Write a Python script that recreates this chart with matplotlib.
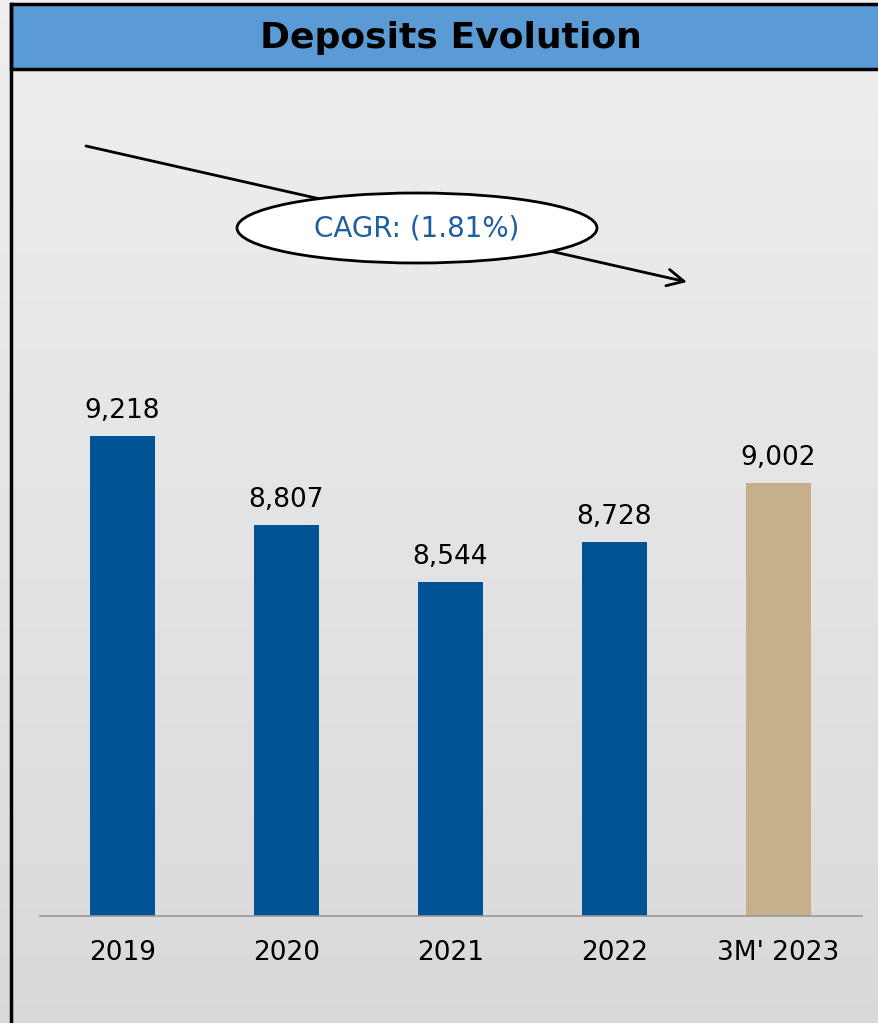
import numpy as np
from matplotlib import pyplot as plt
from matplotlib.patches import Rectangle, Ellipse

years = ['2019', '2020', '2021', '2022', "3M' 2023"]
deposits = [9218, 8807, 8544, 8728, 9002]
bar_colors = ['#005496', '#005496', '#005496', '#005496', '#C6B08B']
cagr_text = 'CAGR: (1.81%)'

W, H = 879, 1023
fig = plt.figure(figsize=(W / 100, H / 100), dpi=100)

# grey gradient behind everything
bg = fig.add_axes([0, 0, 1, 1], zorder=0)
grad = np.linspace(0.935, 0.85, 256).reshape(-1, 1)
bg.imshow(grad, cmap='gray', vmin=0, vmax=1, aspect='auto',
          extent=[0, W, H, 0])
bg.set_xlim(0, W)
bg.set_ylim(H, 0)
bg.axis('off')

# title bar and left frame line
bg.add_patch(Rectangle((11, 4), W + 10, 65, facecolor='#5B9BD5',
                       edgecolor='black', linewidth=2.5, zorder=2))
bg.plot([11, 11], [4, H + 5], color='black', lw=2.5, zorder=3)
bg.text(451, 38, 'Deposits Evolution', ha='center', va='center',
        fontsize=26, fontweight='bold', color='black', zorder=4)

# CAGR arrow with ellipse label
bg.annotate('', xy=(687, 282), xytext=(86, 146),
            arrowprops=dict(arrowstyle='->,head_length=1.2,head_width=0.6',
                            lw=2, color='black', shrinkA=0, shrinkB=0),
            zorder=3)
bg.add_patch(Ellipse((417, 228), 360, 70, facecolor='white',
                     edgecolor='black', lw=2, zorder=4))
bg.text(417, 228, cagr_text, ha='center', va='center', fontsize=20,
        color='#1F5FA0', zorder=5)

# bars
ax = fig.add_axes([40 / W, (H - 916) / H, 822 / W, 846 / H], zorder=1)
ax.patch.set_alpha(0)
x = np.arange(len(years))
ax.bar(x, deposits, width=0.4, color=bar_colors, bottom=0)
ax.set_ylim(7000, 7000 + 846 / 0.2163)
ax.set_xlim(-0.503, 4.51)

for xi, v in zip(x, deposits):
    ax.text(xi, v + 55, f'{v:,}', ha='center', va='bottom', fontsize=19)

for side in ['top', 'right', 'left']:
    ax.spines[side].set_visible(False)
ax.spines['bottom'].set_color('#999999')
ax.spines['bottom'].set_linewidth(1.2)
ax.set_yticks([])
ax.set_xticks(x)
ax.set_xticklabels(years, fontsize=19)
ax.tick_params(axis='x', length=0, pad=17)

plt.savefig('out.png', dpi=100)
